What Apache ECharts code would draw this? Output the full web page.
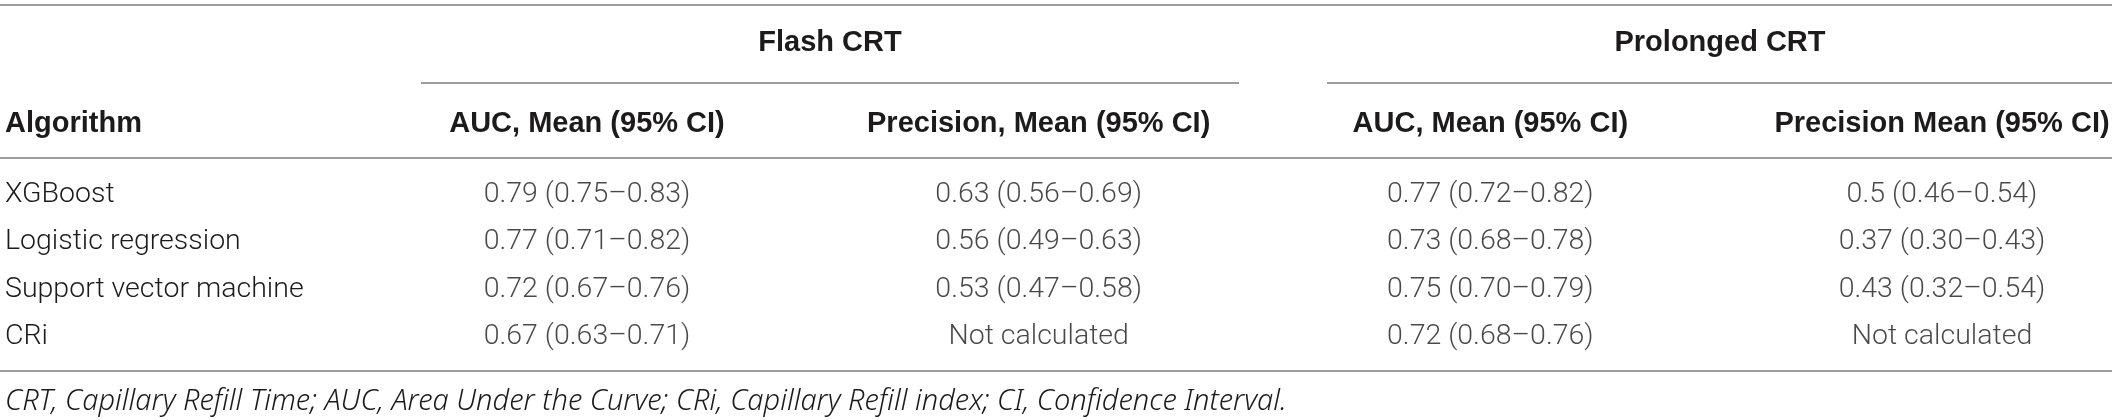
<!DOCTYPE html>
<html>
<head>
<meta charset="utf-8">
<title>CRT algorithms</title>
<script src="https://cdn.jsdelivr.net/npm/echarts@6.0.0/dist/echarts.min.js"></script>
<style>
	html, body { margin: 0; padding: 0; background: #fff; }
	#crtTable { width: 2118px; height: 420px; }
</style>
</head>
<body>
<div id="crtTable"></div>
<script>
// 表格数据
var algorithms = ['XGBoost', 'Logistic regression', 'Support vector machine', 'CRi'];
var columnHeaders = ['AUC, Mean (95% CI)', 'Precision, Mean (95% CI)', 'AUC, Mean (95% CI)', 'Precision Mean (95% CI)'];
var groupHeaders = ['Flash CRT', 'Prolonged CRT'];

// Flash CRT
var flashAucMean = [0.79, 0.77, 0.72, 0.67];
var flashAucLow = [0.75, 0.71, 0.67, 0.63];
var flashAucHigh = [0.83, 0.82, 0.76, 0.71];
var flashPrecMean = [0.63, 0.56, 0.53, null];
var flashPrecLow = [0.56, 0.49, 0.47, null];
var flashPrecHigh = [0.69, 0.63, 0.58, null];

// Prolonged CRT
var prolAucMean = [0.77, 0.73, 0.75, 0.72];
var prolAucLow = [0.72, 0.68, 0.70, 0.68];
var prolAucHigh = [0.82, 0.78, 0.79, 0.76];
var prolPrecMean = [0.5, 0.37, 0.43, null];
var prolPrecLow = [0.46, 0.30, 0.32, null];
var prolPrecHigh = [0.54, 0.43, 0.54, null];

var footnote = 'CRT, Capillary Refill Time; AUC, Area Under the Curve; CRi, Capillary Refill index; CI, Confidence Interval.';

var bodyFont = "'Roboto', 'Liberation Sans', sans-serif";
var noteFont = "'Noto Sans', 'Liberation Sans', sans-serif";
var headFont = "'Liberation Sans', Arial, sans-serif";
var textColor = '#1c1a1b';
var ruleColor = '#7b7b7b';

function fmtCell(mean, low, high) {
	if (mean === null) return 'Not calculated';
	return String(mean) + ' (' + low.toFixed(2) + '–' + high.toFixed(2) + ')';
}

var columns = [
	[flashAucMean, flashAucLow, flashAucHigh],
	[flashPrecMean, flashPrecLow, flashPrecHigh],
	[prolAucMean, prolAucLow, prolAucHigh],
	[prolPrecMean, prolPrecLow, prolPrecHigh]
];

// 每个单元格: [列, 行, 文本]
var cellData = [];
columns.forEach(function (col, c) {
	algorithms.forEach(function (name, r) {
		cellData.push([c, r, fmtCell(col[0][r], col[1][r], col[2][r])]);
	});
});

function rule(y, x1, x2) {
	return {
		type: 'line',
		shape: { x1: x1, y1: y, x2: x2, y2: y },
		style: { stroke: ruleColor, lineWidth: 1.6 },
		silent: true
	};
}

function headText(text, x, y, align) {
	return {
		type: 'text',
		x: x,
		y: y,
		style: {
			text: text,
			font: 'bold 29px ' + headFont,
			fill: textColor,
			textAlign: align,
			textVerticalAlign: 'middle'
		}
	};
}

var chart = echarts.init(document.getElementById('crtTable'), null, { renderer: 'canvas' });
var option = {
	backgroundColor: '#fff',
	animation: false,
	grid: {
		left: 587,
		right: 176,
		top: 195,
		bottom: 83
	},
	xAxis: {
		type: 'category',
		position: 'top',
		boundaryGap: false,
		data: columnHeaders,
		axisLine: { show: false },
		axisTick: { show: false },
		splitLine: { show: false },
		axisLabel: {
			interval: 0,
			margin: 71,
			verticalAlign: 'middle',
			color: textColor,
			fontFamily: headFont,
			fontWeight: 'bold',
			fontSize: 29
		}
	},
	yAxis: {
		type: 'category',
		inverse: true,
		boundaryGap: false,
		data: algorithms,
		axisLine: { show: false },
		axisTick: { show: false },
		splitLine: { show: false },
		axisLabel: {
			interval: 0,
			align: 'left',
			margin: 582,
			color: textColor,
			fontFamily: bodyFont,
			fontWeight: 300,
			fontSize: 28.5
		}
	},
	series: [{
		type: 'scatter',
		data: cellData,
		symbolSize: 0,
		silent: true,
		label: {
			show: true,
			position: 'inside',
			formatter: function (p) { return p.value[2]; },
			color: textColor,
			fontFamily: bodyFont,
			fontWeight: 300,
			fontSize: 28.5
		}
	}],
	graphic: [
		rule(5, 0, 2112),
		rule(83, 421, 1239),
		rule(83, 1327, 2112),
		rule(158, 0, 2112),
		rule(371, 0, 2112),
		headText(groupHeaders[0], 830, 43, 'center'),
		headText(groupHeaders[1], 1720, 43, 'center'),
		headText('Algorithm', 5, 124, 'left'),
		{
			type: 'text',
			x: 5,
			y: 402,
			style: {
				text: footnote,
				font: 'italic 300 29px ' + noteFont,
				fill: textColor,
				textAlign: 'left',
				textVerticalAlign: 'middle'
			}
		}
	]
};
chart.setOption(option);
window.addEventListener('resize', chart.resize);
</script>
</body>
</html>
